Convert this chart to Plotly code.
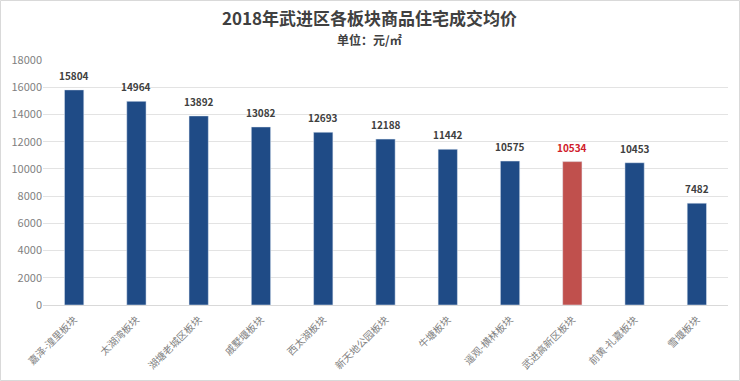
import plotly.graph_objects as go

categories = ["嘉泽-湟里板块", "太湖湾板块", "湖塘老城区板块", "戚墅堰板块", "西太湖板块",
              "新天地公园板块", "牛塘板块", "遥观-横林板块", "武进高新区板块", "前黄-礼嘉板块", "雪堰板块"]
values = [15804, 14964, 13892, 13082, 12693, 12188, 11442, 10575, 10534, 10453, 7482]
highlight = "武进高新区板块"
y_ticks = [0, 2000, 4000, 6000, 8000, 10000, 12000, 14000, 16000, 18000]

blue = "#1F4B86"
red = "#C0504D"
colors = [red if c == highlight else blue for c in categories]
text_colors = ["#D0202A" if c == highlight else "#404040" for c in categories]

fig = go.Figure()
fig.add_trace(go.Bar(
    x=categories, y=values, marker_color=colors,
    cliponaxis=False, hoverinfo="x+y",
))

plot_h = 381 - 60 - 76
plot_w = 740 - 43 - 12
cx = (369 - 43) / plot_w
annotations = [
    dict(text="<b>2018年武进区各板块商品住宅成交均价</b>", x=cx, y=1 + (60 - 18) / plot_h,
         xref="paper", yref="paper",
         showarrow=False, font=dict(size=17, color="#404040"), yanchor="middle"),
    dict(text="<b>单位：元/㎡</b>", x=cx, y=1 + (60 - 39) / plot_h, xref="paper", yref="paper",
         showarrow=False, font=dict(size=12, color="#404040"), yanchor="middle"),
]
for c, v, tc in zip(categories, values, text_colors):
    annotations.append(dict(x=c, y=v, xref="x", yref="y", text=f"<b>{v}</b>", showarrow=False,
                            yanchor="bottom", yshift=5,
                            font=dict(size=10, color=tc, family="Noto Sans CJK SC")))

fig.update_layout(
    width=740, height=381,
    margin=dict(l=43, r=12, t=60, b=76),
    paper_bgcolor="white", plot_bgcolor="white",
    bargap=0.69,
    showlegend=False,
    font=dict(family="Noto Sans CJK SC", color="#595959"),
    annotations=annotations,
    shapes=[dict(type="rect", xref="paper", yref="paper",
                 x0=-42.5 / plot_w, x1=1 + 11.5 / plot_w,
                 y0=-75.5 / plot_h, y1=1 + 59.5 / plot_h,
                 line=dict(color="#D9D9D9", width=1))],
)

fig.update_yaxes(range=[0, 18000], tickvals=y_ticks, ticktext=[str(t) for t in y_ticks],
                 showgrid=True, gridcolor="#E3E3E3", automargin=False,
                 gridwidth=1, zeroline=False, showline=False, ticks="",
                 tickfont=dict(size=11, color="#7F7F7F", family="Noto Sans CJK SC"))
fig.update_xaxes(tickangle=-45, showline=True, linecolor="#D9D9D9", ticks="",
                 ticklabelstandoff=4, automargin=False,
                 tickfont=dict(size=10, color="#7F7F7F", family="Noto Sans CJK SC"))

fig.write_html("out.html", config={"displayModeBar": False},
               post_script="document.body.style.margin='0';")
